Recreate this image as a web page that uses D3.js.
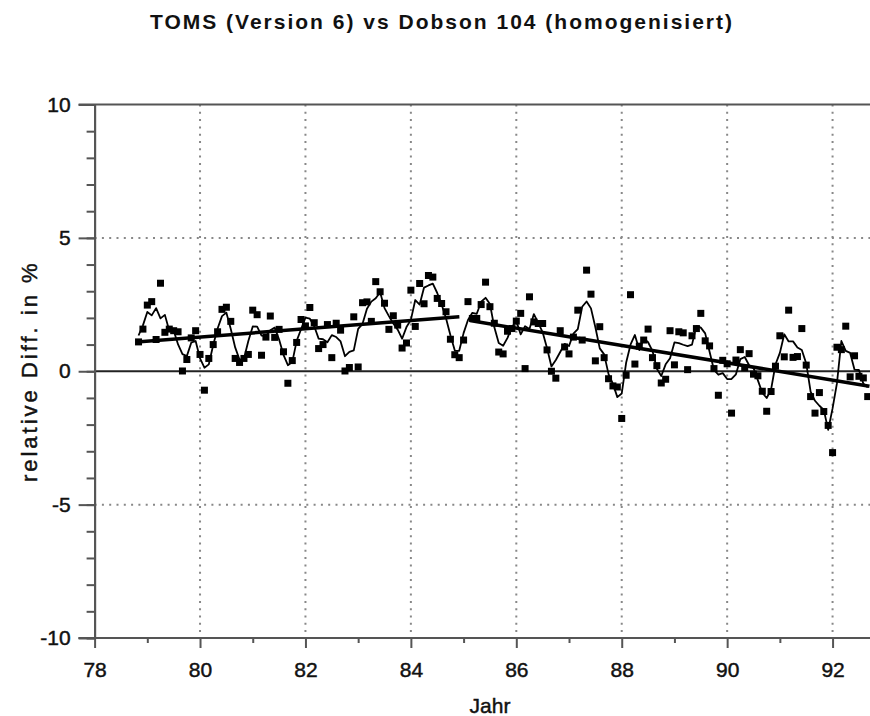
<!DOCTYPE html>
<html>
<head>
<meta charset="utf-8">
<script src="https://cdn.jsdelivr.net/npm/d3@7"></script>
<style>
  body { margin: 0; background: #fff; }
  text { font-family: "Liberation Sans", Arial, Helvetica, sans-serif; fill: #111; }
  .lbl { stroke: #111; stroke-width: 0.45px; }
</style>
</head>
<body>
<svg id="chart" width="870" height="716"></svg>
<script>
// monthly relative differences TOMS - Dobson, starting Nov 1978
const firstMonth = 78 + 10 / 12
const diff = [
  1.10, 1.58, 2.48, 2.61, 1.19, 3.30, 1.46, 1.58, 1.52, 1.48,
  0.01, 0.44, 1.25, 1.52, 0.63, -0.71, 0.48, 1.00, 1.48, 2.32,
  2.40, 1.87, 0.48, 0.33, 0.48, 0.63, 2.29, 2.12, 0.60, 1.28,
  2.07, 1.27, 1.57, 0.73, -0.45, 0.40, 1.08, 1.94, 1.70, 2.39,
  1.82, 0.85, 1.00, 1.75, 0.51, 1.80, 1.54, 0.01, 0.14, 2.04,
  0.16, 2.57, 2.60, 1.87, 3.36, 2.98, 2.55, 1.57, 2.08, 1.73,
  0.87, 1.06, 3.04, 1.68, 3.29, 2.53, 3.59, 3.53, 2.73, 2.54,
  2.23, 1.20, 0.62, 0.51, 1.17, 2.61, 1.98, 1.98, 2.50, 3.34,
  2.42, 1.80, 0.72, 0.65, 1.50, 1.60, 1.88, 2.17, 0.10, 2.79,
  1.85, 1.79, 1.79, 0.80, 0.00, -0.26, 1.52, 0.91, 0.65, 1.28,
  2.29, 1.17, 3.79, 2.89, 0.39, 1.67, 0.51, -0.28, -0.55, -0.59,
  -1.77, -0.15, 2.87, 0.27, 0.94, 1.17, 1.58, 0.51, 0.21, -0.44,
  -0.30, 1.52, 0.24, 1.48, 1.44, 0.06, 1.33, 1.60, 2.17, 1.14,
  0.95, 0.10, -0.90, 0.41, 0.28, -1.57, 0.42, 0.81, 0.13, 0.66,
  -0.11, -0.17, -0.75, -1.50, -0.76, 0.19, 1.33, 0.54, 2.29, 0.52,
  0.55, 1.60, 0.23, -0.95, -1.57, -0.80, -1.51, -2.03, -3.05, 0.90,
  0.81, 1.69, -0.21, 0.58, -0.19, -0.25, -0.95
]
// linear trends before / after 1985 [year, value]
const trend1 = [[78.8, 1.10], [84.92, 2.04]]
const trend2 = [[85.12, 1.90], [92.7, -0.56]]

const xTicks = [78, 80, 82, 84, 86, 88, 90, 92]
const xMinor = [79, 81, 83, 85, 87, 89, 91]
const yTicks = [-10, -5, 0, 5, 10]
const yMinor = d3.range(-10, 11)

const svg = d3.select("#chart")
const x = d3.scaleLinear().domain([78, 92.71]).range([94.6, 870])
const y = d3.scaleLinear().domain([-10, 10]).range([638, 104.5])

const pts = diff.map((v, i) => ({ yr: firstMonth + i / 12, v: v }))
// 3-month running mean
const smooth = pts.map((d, i) => ({
  yr: d.yr,
  v: d3.mean(diff.slice(Math.max(0, i - 1), i + 2))
}))

// dotted grid
svg.append("g").selectAll("line").data(xTicks.slice(1)).join("line")
  .attr("x1", d => x(d)).attr("x2", d => x(d))
  .attr("y1", y(10)).attr("y2", y(-10))
  .attr("stroke", "#888").attr("stroke-width", 2).attr("stroke-dasharray", "2,5.3")
svg.append("g").selectAll("line").data([5, -5]).join("line")
  .attr("x1", x(78)).attr("x2", 870)
  .attr("y1", d => y(d)).attr("y2", d => y(d))
  .attr("stroke", "#888").attr("stroke-width", 2).attr("stroke-dasharray", "2,5.3")

// zero line and top frame
svg.append("line").attr("x1", x(78)).attr("x2", 870).attr("y1", y(0)).attr("y2", y(0))
  .attr("stroke", "#222").attr("stroke-width", 2)
svg.append("line").attr("x1", x(78) - 16).attr("x2", 870).attr("y1", y(10)).attr("y2", y(10))
  .attr("stroke", "#555").attr("stroke-width", 2)

// axes
const yAxis = svg.append("g").attr("transform", `translate(${x(78)},0)`)
yAxis.call(d3.axisLeft(y).tickValues(yMinor).tickSize(8).tickSizeOuter(0).tickFormat(""))
yAxis.append("g").call(d3.axisLeft(y).tickValues(yTicks).tickSize(16).tickSizeOuter(0)
  .tickPadding(8).tickFormat(d => String(d)))
yAxis.selectAll("path, line").attr("stroke", "#555").attr("stroke-width", 2)
yAxis.selectAll("text").attr("class", "lbl").style("font-size", "21px").attr("fill", "#111")

const xAxis = svg.append("g").attr("transform", `translate(0,${y(-10)})`)
xAxis.call(d3.axisBottom(x).tickValues(xMinor).tickSize(5).tickSizeOuter(0).tickFormat(""))
xAxis.append("g").call(d3.axisBottom(x).tickValues(xTicks).tickSize(10).tickSizeOuter(0).tickPadding(14))
xAxis.selectAll("path, line").attr("stroke", "#555").attr("stroke-width", 2)
xAxis.selectAll("path").attr("d", `M${x(78) - 16},0H870`)
xAxis.selectAll("text").attr("class", "lbl").style("font-size", "21px").attr("fill", "#111")

// data
const line = d3.line().x(d => x(d.yr)).y(d => y(d.v))
svg.append("path").datum(smooth).attr("d", line)
  .attr("fill", "none").attr("stroke", "#000").attr("stroke-width", 1.8)
  .attr("stroke-linejoin", "round")

const tline = d3.line().x(d => x(d[0])).y(d => y(d[1]))
svg.selectAll(".trend").data([trend1, trend2]).join("path").attr("class", "trend")
  .attr("d", tline).attr("stroke", "#000").attr("stroke-width", 3.5).attr("fill", "none")

svg.append("g").selectAll("rect").data(pts).join("rect")
  .attr("x", d => x(d.yr) - 3.5).attr("y", d => y(d.v) - 3.5)
  .attr("width", 7).attr("height", 7).attr("fill", "#000")

// titles
svg.append("text").attr("x", 442).attr("y", 29).attr("text-anchor", "middle")
  .style("font-size", "21px").style("font-weight", "bold").style("letter-spacing", "2px")
  .text("TOMS (Version 6) vs Dobson 104 (homogenisiert)")
svg.append("text").attr("class", "lbl").attr("transform", `translate(37,${y(0)}) rotate(-90)`)
  .attr("text-anchor", "middle").style("font-size", "22px").style("letter-spacing", "3px")
  .text("relative Diff. in %")
svg.append("text").attr("class", "lbl").attr("x", 490).attr("y", 713).attr("text-anchor", "middle")
  .style("font-size", "21px").text("Jahr")
</script>
</body>
</html>
